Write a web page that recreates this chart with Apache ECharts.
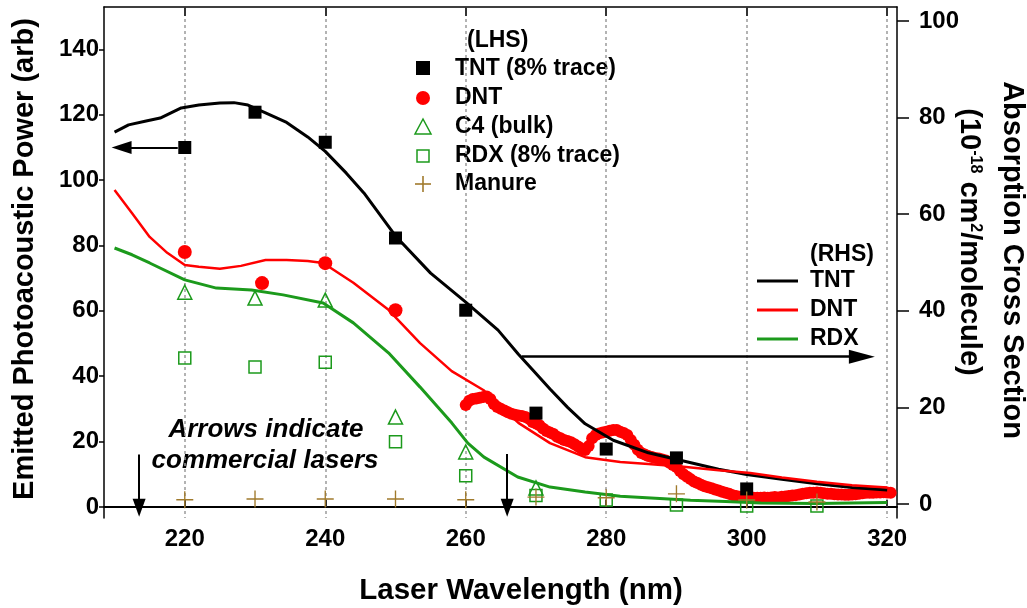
<!DOCTYPE html>
<html>
<head>
<meta charset="utf-8">
<script src="https://cdn.jsdelivr.net/npm/echarts@6/dist/echarts.min.js"></script>
<style>
  html, body { margin: 0; padding: 0; background: #ffffff; }
  #chart { width: 1027px; height: 608px; }
</style>
</head>
<body>
<div id="chart"></div>
<script>
// ---- Tick positions ----
const wavelengthTicks = [220, 240, 260, 280, 300, 320];
const powerTicks = [0, 20, 40, 60, 80, 100, 120, 140];
const crossTicks = [0, 20, 40, 60, 80, 100];

// ---- Photoacoustic power measurements (left axis) : [nm, arb] ----
const tntPower = [[220, 110], [230, 120.8], [240, 111.6], [250, 82.3], [260, 60.2],
                  [270, 28.7], [280, 17.7], [290, 15.0], [300, 5.5]];
const dntPower = [[220, 78], [231, 68.5], [240, 74.6], [250, 60.2]];
const dntScanPower = [
  [260, 31.2], [260.5, 32.5], [261, 33.0], [261.5, 33.2], [262, 33.4], [262.5, 33.6],
  [263, 33.8], [263.5, 33.0], [264, 31.5], [264.5, 30.6], [265, 30.0], [265.5, 29.5],
  [266, 29.0], [266.5, 28.5], [267, 28.2], [267.5, 28.0], [268, 27.8], [268.5, 27.5],
  [269, 27.0], [269.5, 26.0], [270, 25.5], [270.5, 25.0], [271, 24.0], [271.5, 23.2],
  [272, 22.8], [272.5, 22.3], [273, 21.5], [273.5, 21.0], [274, 20.5], [274.5, 20.2],
  [275, 19.8], [275.5, 19.2], [276, 18.5], [276.5, 17.8], [277, 17.4], [277.5, 18.6],
  [278, 21.0], [278.5, 22.0], [279, 22.5], [279.5, 22.8], [280, 23.0], [280.5, 23.3],
  [281, 23.5], [281.5, 23.5], [282, 23.0], [282.5, 22.6], [283, 22.0], [283.5, 20.5],
  [284, 19.0], [284.5, 17.5], [285, 16.5], [285.5, 16.0], [286, 15.6], [286.5, 15.3],
  [287, 15.0], [287.5, 14.8], [288, 14.5], [288.5, 14.2], [289, 13.5], [289.5, 12.8],
  [290, 12.2], [290.5, 11.0], [291, 10.0], [291.5, 9.2], [292, 8.5], [292.5, 7.8],
  [293, 7.3], [293.5, 6.8], [294, 6.3], [294.5, 6.0], [295, 5.7], [295.5, 5.3],
  [296, 5.0], [296.5, 4.6], [297, 4.3], [297.5, 4.0], [298, 3.6], [298.5, 3.3],
  [299, 3.1], [299.5, 3.0], [300, 2.9], [300.5, 2.8], [301, 2.8], [301.5, 2.8],
  [302, 2.8], [302.5, 2.9], [303, 2.8], [303.5, 2.9], [304, 3.0], [304.5, 2.9],
  [305, 3.1], [305.5, 3.2], [306, 3.3], [306.5, 3.5], [307, 3.6], [307.5, 3.8],
  [308, 4.0], [308.5, 4.2], [309, 4.3], [309.5, 4.3], [310, 4.4], [310.5, 4.3],
  [311, 4.2], [311.5, 4.0], [312, 4.0], [312.5, 3.9], [313, 3.8], [313.5, 3.8],
  [314, 3.7], [314.5, 3.7], [315, 3.8], [315.5, 3.9], [316, 4.0], [316.5, 4.2],
  [317, 4.3], [317.5, 4.3], [318, 4.3], [318.5, 4.4], [319, 4.4], [319.5, 4.5],
  [320, 4.4], [320.5, 4.3]
];
const c4Power = [[220, 65.7], [230, 63.9], [240, 63.3], [250, 27.5], [260, 16.8], [270, 5.8]];
const rdxPower = [[220, 45.6], [230, 42.8], [240, 44.3], [250, 19.9], [260, 9.5], [270, 3.5],
                  [280, 2.1], [290, 0.6], [300, 0.3], [310, 0.3]];
const manurePower = [[220, 2.2], [230, 2.4], [240, 2.4], [250, 2.4], [260, 2.2], [270, 3.0],
                     [280, 2.8], [290, 4.0], [300, 2.1], [310, 1.5]];

// ---- Absorption cross sections (right axis) : [nm, 1e-18 cm^2/molecule] ----
const tntCross = [[210, 77], [212, 78.5], [214.5, 79.3], [216.5, 79.9], [219.5, 82], [222, 82.6],
  [225, 83], [227, 83.1], [229, 82.6], [231.5, 81], [234.5, 79], [237.5, 76], [240, 73],
  [243, 68.5], [245.5, 64.4], [250, 55.5], [255, 47.8], [260, 41.8], [264.6, 36], [267.5, 31],
  [270, 27], [272, 23.8], [274.5, 20], [277, 16.6], [281, 13.2], [286, 10.6], [291, 8.9],
  [296, 7.2], [300, 6.1], [305, 5.1], [310, 4.2], [315, 3.4], [320, 2.9]];
const dntCross = [[210, 65], [212.5, 60.2], [215, 55.3], [217.5, 52], [220, 49.5], [222, 49.1],
  [225, 48.7], [228, 49.3], [231.5, 50.5], [234.5, 50.5], [237.5, 50.3], [239.7, 49.9],
  [244, 45.8], [249, 40.2], [253.5, 33.3], [258, 27.5], [262.5, 23.6], [267.5, 16.8],
  [272, 12.6], [277, 9.7], [282, 8.7], [286, 8.3], [291, 7.7], [296, 7.0], [300.5, 6.4],
  [305, 5.5], [310, 4.6], [315, 3.9], [320, 3.4]];
const rdxCross = [[210, 53], [212.5, 51.6], [215, 49.9], [220, 46.4], [224.5, 44.7], [229.5, 44.3],
  [234, 43.3], [239.7, 41.6], [244, 37.5], [249, 31.3], [253.5, 24.2], [258, 16.8], [260.3, 12.6],
  [262.6, 9.7], [267.4, 5.6], [272, 3.5], [277, 2.5], [282, 1.6], [287, 1.2], [292, 0.8],
  [297, 0.5], [302, 0.2], [310, 0.1], [320, 0.3]];

// ---- Annotation arrows (data coordinates; the end point is the arrowhead centre) ----
const lhsArrow = [[219, 110], [211.0, 110]];
const rhsArrow = [[268, 30.5], [316.4, 30.5]];
const laserArrows = [[[213.5, 16], [213.5, -0.3]], [[265.9, 16.2], [265.9, -0.3]]];

const FONT = "'Liberation Sans', Arial, sans-serif";
const GREEN = '#1c9a1c';
const BROWN = '#a07a2c';

const chart = echarts.init(document.getElementById('chart'), null, { renderer: 'canvas' });

const tickLabel = { color: '#000', fontFamily: FONT, fontWeight: 'bold', fontSize: 24 };

function arrowItem(from, to, size) {
  return [
    { coord: from, symbol: 'none' },
    { coord: to, symbol: 'triangle', symbolSize: size }
  ];
}

function keyText(x, y, text) {
  return { type: 'text', x: x, y: y, style: { text: text, fill: '#000', font: 'bold 23px ' + FONT,
    textAlign: 'left', textVerticalAlign: 'middle' } };
}

const option = {
  animation: false,
  backgroundColor: '#ffffff',
  grid: { left: 104, right: 130, top: 7, bottom: 90, containLabel: false },
  xAxis: [
    {
      type: 'value', position: 'bottom', min: 208.5, max: 321.4,
      axisLine: { show: true, lineStyle: { color: '#000', width: 2 } },
      axisTick: { show: true, inside: true, length: 7, customValues: wavelengthTicks,
                  lineStyle: { color: '#333', width: 2 } },
      axisLabel: Object.assign({ customValues: wavelengthTicks, margin: 9 }, tickLabel),
      splitLine: { show: true, lineStyle: { color: '#9a9a9a', width: 1.5, type: [3, 3] } }
    },
    {
      type: 'value', position: 'top', min: 208.5, max: 321.4,
      axisLine: { show: true, onZero: false, lineStyle: { color: '#000', width: 1.5 } },
      axisTick: { show: true, inside: true, length: 9, customValues: wavelengthTicks,
                  lineStyle: { color: '#333', width: 2 } },
      axisLabel: { show: false },
      splitLine: { show: false }
    }
  ],
  yAxis: [
    {
      type: 'value', position: 'left', min: -3.4, max: 153,
      axisLine: { show: true, onZero: false, lineStyle: { color: '#000', width: 1.5 } },
      axisTick: { show: true, inside: false, length: 5, customValues: powerTicks,
                  lineStyle: { color: '#000', width: 1.5 } },
      axisLabel: Object.assign({ customValues: powerTicks, margin: 5 }, tickLabel),
      splitLine: { show: false }
    },
    {
      type: 'value', position: 'right', min: -2.9, max: 102.9,
      axisLine: { show: true, onZero: false, lineStyle: { color: '#000', width: 1.5 } },
      axisTick: { show: true, inside: false, length: 12, customValues: crossTicks,
                  lineStyle: { color: '#000', width: 1.5 } },
      axisLabel: Object.assign({ customValues: crossTicks, margin: 22 }, tickLabel),
      splitLine: { show: false }
    }
  ],
  series: [
    {
      name: 'DNT scan', type: 'scatter', yAxisIndex: 0, data: dntScanPower,
      symbol: 'circle', symbolSize: 12, z: 1,
      itemStyle: { color: '#ff0000', opacity: 1 }
    },
    {
      name: 'TNT', type: 'line', yAxisIndex: 1, data: tntCross, showSymbol: false, z: 2,
      lineStyle: { color: '#000', width: 3 },
      markLine: {
        silent: true, animation: false, label: { show: false },
        lineStyle: { color: '#000', width: 2.5, type: 'solid' },
        data: [arrowItem(rhsArrow[0], rhsArrow[1], [14, 26])]
      }
    },
    {
      name: 'DNT', type: 'line', yAxisIndex: 1, data: dntCross, showSymbol: false, z: 2,
      lineStyle: { color: '#ff0000', width: 2.5 }
    },
    {
      name: 'RDX', type: 'line', yAxisIndex: 1, data: rdxCross, showSymbol: false, z: 2,
      lineStyle: { color: GREEN, width: 3 }
    },
    {
      name: 'TNT (8% trace)', type: 'scatter', yAxisIndex: 0, data: tntPower,
      symbol: 'rect', symbolSize: 13, z: 4, itemStyle: { color: '#000', opacity: 1 },
      markLine: {
        silent: true, animation: false, label: { show: false },
        lineStyle: { color: '#000', width: 2, type: 'solid' },
        data: [
          arrowItem(lhsArrow[0], lhsArrow[1], [13, 20]),
          arrowItem(laserArrows[0][0], laserArrows[0][1], [13, 18]),
          arrowItem(laserArrows[1][0], laserArrows[1][1], [13, 18])
        ]
      }
    },
    {
      name: 'DNT points', type: 'scatter', yAxisIndex: 0, data: dntPower,
      symbol: 'circle', symbolSize: 14, z: 4, itemStyle: { color: '#ff0000', opacity: 1 }
    },
    {
      name: 'C4 (bulk)', type: 'scatter', yAxisIndex: 0, data: c4Power,
      symbol: 'triangle', symbolSize: 14, z: 4,
      itemStyle: { color: 'rgba(0,0,0,0)', borderColor: GREEN, borderWidth: 1.5, opacity: 1 }
    },
    {
      name: 'RDX (8% trace)', type: 'scatter', yAxisIndex: 0, data: rdxPower,
      symbol: 'rect', symbolSize: 12, z: 4,
      itemStyle: { color: 'rgba(0,0,0,0)', borderColor: GREEN, borderWidth: 1.5, opacity: 1 }
    },
    {
      name: 'Manure', type: 'scatter', yAxisIndex: 0, data: manurePower,
      symbol: 'path://M9.2,0h1.6v20h-1.6zM0,9.2h20v1.6h-20z', symbolSize: 17, z: 4,
      itemStyle: { color: BROWN, opacity: 1 }
    }
  ],
  graphic: [
    // axis titles
    { type: 'text', x: 521, y: 591, style: { text: 'Laser Wavelength (nm)', fill: '#000',
      font: 'bold 29.5px ' + FONT, textAlign: 'center', textVerticalAlign: 'middle' } },
    { type: 'text', x: 25, y: 259, rotation: Math.PI / 2, style: { text: 'Emitted Photoacoustic Power (arb)',
      fill: '#000', font: 'bold 29px ' + FONT, textAlign: 'center', textVerticalAlign: 'middle' } },
    { type: 'text', x: 1012, y: 260, rotation: -Math.PI / 2, style: { text: 'Absorption Cross Section',
      fill: '#000', font: 'bold 29px ' + FONT, textAlign: 'center', textVerticalAlign: 'middle' } },
    { type: 'text', x: 969, y: 242, rotation: -Math.PI / 2, style: {
      text: '(10{sup|-18} cm{sup|2}/molecule)', fill: '#000', font: 'bold 29px ' + FONT,
      textAlign: 'center', textVerticalAlign: 'middle',
      rich: { sup: { fontSize: 16, fontWeight: 'bold', fontFamily: FONT, verticalAlign: 'top', fill: '#000' } } } },

    // note about laser lines
    { type: 'text', x: 266, y: 430, style: { text: 'Arrows indicate', fill: '#000',
      font: 'italic bold 26px ' + FONT, textAlign: 'center', textVerticalAlign: 'middle' } },
    { type: 'text', x: 265, y: 461, style: { text: 'commercial lasers', fill: '#000',
      font: 'italic bold 26px ' + FONT, textAlign: 'center', textVerticalAlign: 'middle' } },

    // left-hand-side key
    keyText(467, 41, '(LHS)'),
    { type: 'rect', shape: { x: 416, y: 61, width: 14, height: 14 }, style: { fill: '#000' } },
    { type: 'circle', shape: { cx: 423, cy: 98, r: 7 }, style: { fill: '#ff0000' } },
    { type: 'polygon', shape: { points: [[423, 119], [415, 134], [431, 134]] },
      style: { fill: 'none', stroke: GREEN, lineWidth: 1.5 } },
    { type: 'rect', shape: { x: 417, y: 150, width: 12, height: 12 },
      style: { fill: 'none', stroke: GREEN, lineWidth: 1.5 } },
    { type: 'line', shape: { x1: 415, y1: 184, x2: 431, y2: 184 }, style: { stroke: BROWN, lineWidth: 1.6 } },
    { type: 'line', shape: { x1: 423, y1: 176, x2: 423, y2: 192 }, style: { stroke: BROWN, lineWidth: 1.6 } },
    keyText(455, 69, 'TNT (8% trace)'),
    keyText(455, 98, 'DNT'),
    keyText(455, 127, 'C4 (bulk)'),
    keyText(455, 156, 'RDX (8% trace)'),
    keyText(455, 184, 'Manure'),

    // right-hand-side key
    keyText(810, 255, '(RHS)'),
    { type: 'line', shape: { x1: 757, y1: 281, x2: 798, y2: 281 }, style: { stroke: '#000', lineWidth: 3 } },
    { type: 'line', shape: { x1: 757, y1: 310, x2: 798, y2: 310 }, style: { stroke: '#ff0000', lineWidth: 3 } },
    { type: 'line', shape: { x1: 757, y1: 339, x2: 798, y2: 339 }, style: { stroke: GREEN, lineWidth: 3 } },
    keyText(810, 281, 'TNT'),
    keyText(810, 310, 'DNT'),
    keyText(810, 339, 'RDX')
  ]
};

chart.setOption(option);
</script>
</body>
</html>
